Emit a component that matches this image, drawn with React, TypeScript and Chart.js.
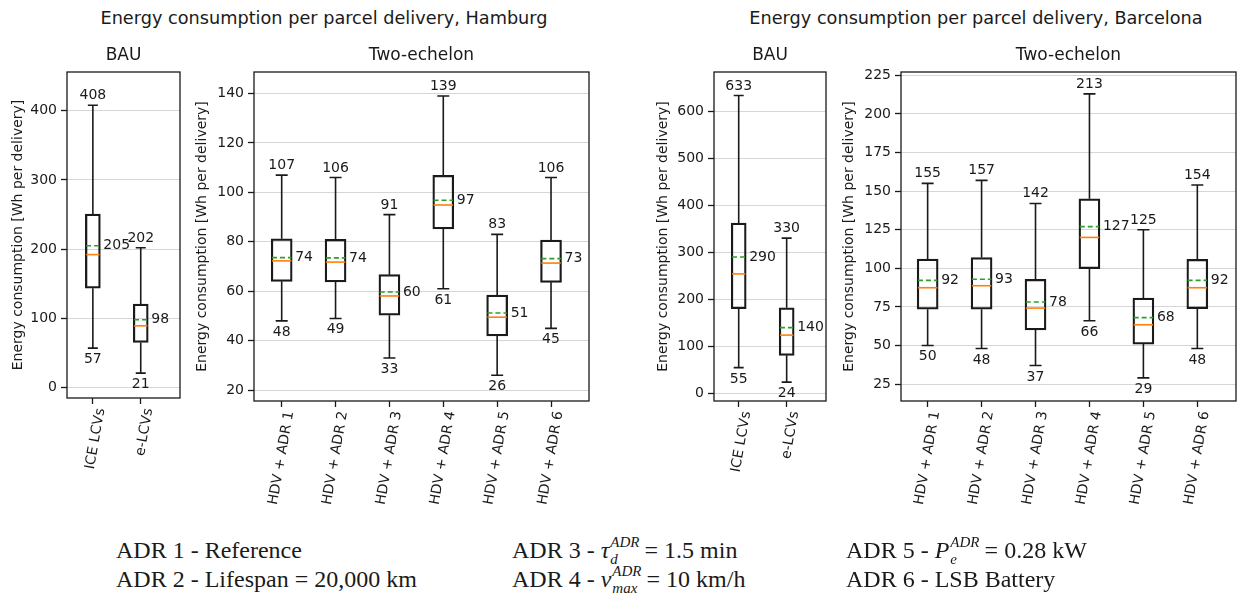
import React, { useEffect, useRef } from 'react';
import { Chart, registerables } from 'chart.js';

Chart.register(...registerables);
Chart.defaults.font.family = 'DejaVu Sans';

// Category names
const BAU_CATEGORIES = ['ICE LCVs', 'e-LCVs'];
const TWO_ECHELON_CATEGORIES = ['HDV + ADR 1', 'HDV + ADR 2', 'HDV + ADR 3', 'HDV + ADR 4', 'HDV + ADR 5', 'HDV + ADR 6'];

// Hamburg – BAU (Wh per delivery)
const HAM_BAU_MIN = [57, 21];
const HAM_BAU_Q1 = [143.6, 65.3];
const HAM_BAU_MEDIAN = [192.2, 89.3];
const HAM_BAU_MEAN = [205, 98];
const HAM_BAU_Q3 = [250.6, 120.7];
const HAM_BAU_MAX = [408, 202];

// Hamburg – two-echelon
const HAM_TWO_MIN = [48, 49, 33, 61, 26, 45];
const HAM_TWO_Q1 = [64, 63.8, 50.3, 85.2, 41.9, 63.6];
const HAM_TWO_MEDIAN = [72.3, 71.8, 58.1, 94.9, 49.5, 71.4];
const HAM_TWO_MEAN = [73.6, 73.5, 59.7, 96.8, 51.2, 73.2];
const HAM_TWO_Q3 = [81.2, 81, 66.7, 106.9, 58.5, 80.7];
const HAM_TWO_MAX = [107, 106, 91, 139, 83, 106];

// Barcelona – BAU
const BCN_BAU_MIN = [55, 24];
const BCN_BAU_Q1 = [180, 81];
const BCN_BAU_MEDIAN = [254, 124];
const BCN_BAU_MEAN = [290, 140];
const BCN_BAU_Q3 = [362, 182];
const BCN_BAU_MAX = [633, 330];

// Barcelona – two-echelon
const BCN_TWO_MIN = [50, 48, 37, 66, 29, 48];
const BCN_TWO_Q1 = [73.5, 73.5, 60, 99.8, 50.9, 73.8];
const BCN_TWO_MEDIAN = [87.4, 88.7, 74.2, 120, 63.4, 87.4];
const BCN_TWO_MEAN = [92.2, 92.9, 78.2, 127, 68, 92.2];
const BCN_TWO_Q3 = [106, 107, 92.9, 145, 80.7, 105.8];
const BCN_TWO_MAX = [155, 157, 142, 213, 125, 154];

// Y-axis tick values
const HAM_BAU_TICKS = [0, 100, 200, 300, 400];
const HAM_TWO_TICKS = [20, 40, 60, 80, 100, 120, 140];
const BCN_BAU_TICKS = [0, 100, 200, 300, 400, 500, 600];
const BCN_TWO_TICKS = [25, 50, 75, 100, 125, 150, 175, 200, 225];

const Y_TITLE = 'Energy consumption [Wh per delivery]';
const INK = '#1a1a1a';
const MEDIAN_COLOR = '#ff7f0e';
const MEAN_COLOR = '#2ca02c';
const GRID_COLOR = '#d6d6d6';

type Stats = { min: number[]; q1: number[]; median: number[]; mean: number[]; q3: number[]; max: number[] };
type Panel = {
  key: string;
  title: string;
  categories: string[];
  stats: Stats;
  ticks: number[];
  yRange: [number, number];
  xRange: [number, number];
  boxWidth: number;
  capWidth: number;
  plot: { left: number; top: number; right: number; bottom: number };
  yTitleCenter: number;
};

const CANVAS_TOP = 40;
const CANVAS_BOTTOM = 530;

const PANELS: Panel[] = [
  {
    key: 'ham-bau', title: 'BAU', categories: BAU_CATEGORIES,
    stats: { min: HAM_BAU_MIN, q1: HAM_BAU_Q1, median: HAM_BAU_MEDIAN, mean: HAM_BAU_MEAN, q3: HAM_BAU_Q3, max: HAM_BAU_MAX },
    ticks: HAM_BAU_TICKS, yRange: [-15, 456], xRange: [0.46, 2.82], boxWidth: 15, capWidth: 10,
    plot: { left: 67, top: 72, right: 180, bottom: 398 }, yTitleCenter: 18,
  },
  {
    key: 'ham-two', title: 'Two-echelon', categories: TWO_ECHELON_CATEGORIES,
    stats: { min: HAM_TWO_MIN, q1: HAM_TWO_Q1, median: HAM_TWO_MEDIAN, mean: HAM_TWO_MEAN, q3: HAM_TWO_Q3, max: HAM_TWO_MAX },
    ticks: HAM_TWO_TICKS, yRange: [15.6, 148.7], xRange: [0.486, 6.705], boxWidth: 21, capWidth: 12,
    plot: { left: 254, top: 72, right: 589, bottom: 401 }, yTitleCenter: 202.5,
  },
  {
    key: 'bcn-bau', title: 'BAU', categories: BAU_CATEGORIES,
    stats: { min: BCN_BAU_MIN, q1: BCN_BAU_Q1, median: BCN_BAU_MEDIAN, mean: BCN_BAU_MEAN, q3: BCN_BAU_Q3, max: BCN_BAU_MAX },
    ticks: BCN_BAU_TICKS, yRange: [-16, 683], xRange: [0.485, 2.82], boxWidth: 15, capWidth: 10,
    plot: { left: 714, top: 72, right: 826, bottom: 401 }, yTitleCenter: 663.3,
  },
  {
    key: 'bcn-two', title: 'Two-echelon', categories: TWO_ECHELON_CATEGORIES,
    stats: { min: BCN_TWO_MIN, q1: BCN_TWO_Q1, median: BCN_TWO_MEDIAN, mean: BCN_TWO_MEAN, q3: BCN_TWO_Q3, max: BCN_TWO_MAX },
    ticks: BCN_TWO_TICKS, yRange: [14, 227.2], xRange: [0.506, 6.717], boxWidth: 21, capWidth: 12,
    plot: { left: 901, top: 72, right: 1236, bottom: 401 }, yTitleCenter: 849,
  },
];

// Whiskers, caps, median, mean and value labels, drawn on top of the box bars
function boxExtras(panel: Panel) {
  return {
    id: 'boxExtras-' + panel.key,
    afterDatasetsDraw(chart: any) {
      const { ctx, chartArea } = chart;
      const xs = chart.scales.x;
      const ys = chart.scales.y;
      const s = panel.stats;
      const half = panel.boxWidth / 2;
      const cap = panel.capWidth / 2;
      ctx.save();
      ctx.font = '14px "DejaVu Sans"';
      ctx.fillStyle = INK;
      panel.categories.forEach((_, i) => {
        const cx = xs.getPixelForValue(i + 1);
        const yMin = ys.getPixelForValue(s.min[i]);
        const yQ1 = ys.getPixelForValue(s.q1[i]);
        const yMed = ys.getPixelForValue(s.median[i]);
        const yMean = ys.getPixelForValue(s.mean[i]);
        const yQ3 = ys.getPixelForValue(s.q3[i]);
        const yMax = ys.getPixelForValue(s.max[i]);

        ctx.setLineDash([]);
        ctx.strokeStyle = INK;
        ctx.lineWidth = 1.6;
        ctx.beginPath();
        ctx.moveTo(cx, yQ3); ctx.lineTo(cx, yMax);
        ctx.moveTo(cx, yQ1); ctx.lineTo(cx, yMin);
        ctx.moveTo(cx - cap, yMax); ctx.lineTo(cx + cap, yMax);
        ctx.moveTo(cx - cap, yMin); ctx.lineTo(cx + cap, yMin);
        ctx.stroke();

        ctx.strokeStyle = MEDIAN_COLOR;
        ctx.beginPath();
        ctx.moveTo(cx - half + 0.8, yMed); ctx.lineTo(cx + half - 0.8, yMed);
        ctx.stroke();

        ctx.strokeStyle = MEAN_COLOR;
        ctx.setLineDash([5, 3]);
        ctx.beginPath();
        ctx.moveTo(cx - half + 0.8, yMean); ctx.lineTo(cx + half - 0.8, yMean);
        ctx.stroke();
        ctx.setLineDash([]);

        ctx.textAlign = 'center';
        ctx.textBaseline = 'alphabetic';
        ctx.fillText(String(Math.round(s.max[i])), cx, yMax - 6);
        ctx.fillText(String(Math.round(s.min[i])), cx, yMin + 15);
        ctx.textAlign = 'left';
        ctx.textBaseline = 'middle';
        ctx.fillText(String(Math.round(s.mean[i])), cx + half + 3, yMean);
      });

      // axes frame
      ctx.strokeStyle = INK;
      ctx.lineWidth = 1.3;
      ctx.strokeRect(chartArea.left, chartArea.top, chartArea.right - chartArea.left, chartArea.bottom - chartArea.top);
      ctx.restore();
    },
  };
}

function buildConfig(panel: Panel): any {
  const canvasLeft = Math.round(panel.yTitleCenter - 8.4);
  const canvasRight = panel.plot.right + 3;
  const s = panel.stats;
  return {
    type: 'bar',
    data: {
      datasets: [
        {
          data: panel.categories.map((_, i) => ({ x: i + 1, y: [s.q1[i], s.q3[i]] })),
          backgroundColor: 'rgba(0,0,0,0)',
          borderColor: INK,
          borderWidth: 1.6,
          borderSkipped: false,
          barThickness: panel.boxWidth,
          grouped: false,
        },
      ],
    },
    options: {
      animation: false,
      responsive: false,
      maintainAspectRatio: false,
      events: [],
      layout: { padding: { left: 0, top: panel.plot.top - CANVAS_TOP, right: canvasRight - panel.plot.right, bottom: 0 } },
      plugins: { legend: { display: false }, tooltip: { enabled: false }, title: { display: false } },
      scales: {
        x: {
          type: 'linear',
          offset: false,
          min: panel.xRange[0],
          max: panel.xRange[1],
          afterBuildTicks: (axis: any) => {
            axis.ticks = panel.categories.map((_, i) => ({ value: i + 1 }));
          },
          afterFit: (axis: any) => {
            axis.height = CANVAS_BOTTOM - panel.plot.bottom;
          },
          ticks: {
            autoSkip: false,
            minRotation: 80,
            maxRotation: 80,
            labelOffset: 8,
            padding: 3,
            color: INK,
            font: { size: 14, family: 'DejaVu Sans' },
            callback: (v: number) => panel.categories[Math.round(v) - 1] ?? '',
          },
          grid: { offset: false, drawOnChartArea: false, drawTicks: true, tickLength: 6, tickColor: INK, tickWidth: 1.3 },
          border: { display: false },
        },
        y: {
          type: 'linear',
          min: panel.yRange[0],
          max: panel.yRange[1],
          afterBuildTicks: (axis: any) => {
            axis.ticks = panel.ticks.map((v) => ({ value: v }));
          },
          afterFit: (axis: any) => {
            axis.width = panel.plot.left - canvasLeft;
          },
          ticks: { color: INK, padding: 4, font: { size: 14, family: 'DejaVu Sans' } },
          grid: { color: GRID_COLOR, lineWidth: 1, tickLength: 6, tickColor: INK, tickWidth: 1.3 },
          border: { display: false },
          title: { display: true, text: Y_TITLE, color: INK, padding: 0, font: { size: 14, family: 'DejaVu Sans' } },
        },
      },
    },
    plugins: [boxExtras(panel)],
  };
}

function BoxPanel({ panel }: { panel: Panel }) {
  const ref = useRef<HTMLCanvasElement>(null);
  const canvasLeft = Math.round(panel.yTitleCenter - 8.4);
  const width = panel.plot.right + 3 - canvasLeft;
  const height = CANVAS_BOTTOM - CANVAS_TOP;
  useEffect(() => {
    const chart = new Chart(ref.current as HTMLCanvasElement, buildConfig(panel));
    return () => chart.destroy();
  }, [panel]);
  return (
    <>
      <canvas
        ref={ref}
        width={width}
        height={height}
        style={{ position: 'absolute', left: canvasLeft, top: CANVAS_TOP, width, height }}
      />
      <div
        style={{
          position: 'absolute',
          left: (panel.plot.left + panel.plot.right) / 2 - 100,
          width: 200,
          top: 46,
          textAlign: 'center',
          font: '17px "DejaVu Sans"',
          lineHeight: '17px',
          color: INK,
          whiteSpace: 'nowrap',
        }}
      >
        {panel.title}
      </div>
    </>
  );
}

function Scripted({ base, sup, sub }: { base: string; sup: string; sub: string }) {
  return (
    <>
      <i>{base}</i>
      <span style={{ position: 'relative', display: 'inline-block', width: '1.95em', height: 0, fontSize: 15, fontStyle: 'italic' }}>
        <span style={{ position: 'absolute', left: 1, top: -23, lineHeight: '15px' }}>{sup}</span>
        <span style={{ position: 'absolute', left: 1, top: -6.5, lineHeight: '15px' }}>{sub}</span>
      </span>
    </>
  );
}

const serif: React.CSSProperties = {
  position: 'absolute',
  font: '24px "Liberation Serif"',
  lineHeight: '24px',
  color: INK,
  whiteSpace: 'nowrap',
};

const LINE1_TOP = 538;
const LINE2_TOP = 567;

function MainTitle({ text, center }: { text: string; center: number }) {
  return (
    <div
      style={{
        position: 'absolute',
        left: center - 300,
        width: 600,
        top: 10,
        textAlign: 'center',
        font: '17.7px "DejaVu Sans"',
        lineHeight: '17.7px',
        color: INK,
        whiteSpace: 'nowrap',
      }}
    >
      {text}
    </div>
  );
}

export default function App() {
  return (
    <div style={{ position: 'absolute', left: 0, top: 0, width: 1245, height: 601, background: '#fff', overflow: 'hidden' }}>
      <MainTitle text="Energy consumption per parcel delivery, Hamburg" center={324} />
      <MainTitle text="Energy consumption per parcel delivery, Barcelona" center={976} />
      {PANELS.map((p) => (
        <BoxPanel key={p.key} panel={p} />
      ))}
      <div style={{ ...serif, left: 116, top: LINE1_TOP }}>ADR 1 - Reference</div>
      <div style={{ ...serif, left: 116, top: LINE2_TOP }}>ADR 2 - Lifespan = 20,000 km</div>
      <div style={{ ...serif, left: 512, top: LINE1_TOP }}>
        ADR 3 - <Scripted base="τ" sup="ADR" sub="d" /> = 1.5 min
      </div>
      <div style={{ ...serif, left: 512, top: LINE2_TOP }}>
        ADR 4 - <Scripted base="v" sup="ADR" sub="max" /> = 10 km/h
      </div>
      <div style={{ ...serif, left: 846, top: LINE1_TOP }}>
        ADR 5 - <Scripted base="P" sup="ADR" sub="e" /> = 0.28 kW
      </div>
      <div style={{ ...serif, left: 846, top: LINE2_TOP }}>ADR 6 - LSB Battery</div>
    </div>
  );
}
